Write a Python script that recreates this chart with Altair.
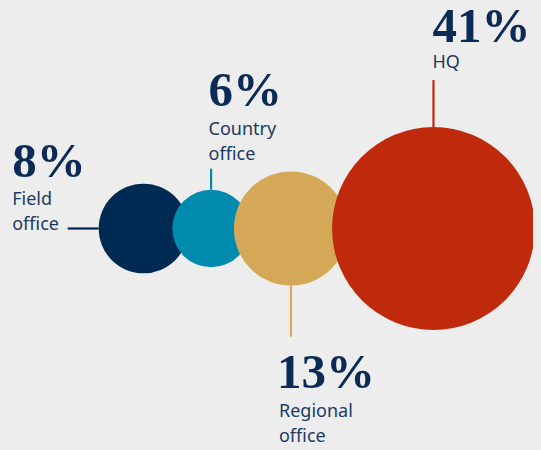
import math
import jinja2
import altair as alt
import pandas as pd

# ---- data ----
categories = ["Field office", "Country office", "Regional office", "HQ"]
shares = [8, 6, 13, 41]
pct_labels = ["8%", "6%", "13%", "41%"]
label_lines = ["Field\noffice", "Country\noffice", "Regional\noffice", "HQ"]
colors = ["#002a52", "#008aad", "#d4a857", "#bf2a0c"]

# ---- layout (pixels in plot space) ----
W, H = 525, 434
BG = "#ededed"
R_MAX = 101.4                 # radius of the largest bubble
K = R_MAX / math.sqrt(max(shares))
OVERLAP = 16
CY = 220.5
X0 = 135.5
sides = ["left", "top", "bottom", "top"]
conn_len = [31, 21, 51, 47]
pct_off = [(-55.5, -52), (-2.5, -63), (-14, 51), (-1, -38)]
lab_off = [(-55.5, -24), (-2.5, -34), (-12, 80), (-1, -12)]

rows = []
cx = X0
prev_r = None
for i, v in enumerate(shares):
    r = K * math.sqrt(v)
    if prev_r is not None:
        cx = cx + prev_r + r - OVERLAP
    prev_r = r
    s = sides[i]
    if s == "left":
        x1, x2, y1, y2 = cx - r - conn_len[i], cx - r, CY, CY
        ex, ey = x1, y1
    elif s == "top":
        x1, x2, y1, y2 = cx, cx, CY - r - conn_len[i], CY - r
        ex, ey = x1, y1
    else:
        x1, x2, y1, y2 = cx, cx, CY + r, CY + r + conn_len[i]
        ex, ey = x2, y2
    rows.append(dict(
        idx=i, cat=categories[i], value=v, cx=cx, cy=CY,
        lx1=x1, lx2=x2, ly1=y1, ly2=y2,
        px=ex + pct_off[i][0], py=ey + pct_off[i][1],
        tx=ex + lab_off[i][0], ty=ey + lab_off[i][1],
        pct=pct_labels[i], lab=label_lines[i],
    ))
df = pd.DataFrame(rows)

xs = alt.Scale(domain=[0, W], range=[0, W], nice=False, zero=False)
ys = alt.Scale(domain=[0, H], reverse=True, nice=False, zero=False)
color = alt.Color("cat:N", scale=alt.Scale(domain=categories, range=colors), legend=None)

base = alt.Chart(df)

# Vega circle: size = area of bounding square = (2r)^2
circles = base.mark_circle(opacity=1, strokeWidth=0).encode(
    x=alt.X("cx:Q", scale=xs, axis=None),
    y=alt.Y("cy:Q", scale=ys, axis=None),
    size=alt.Size("value:Q", scale=alt.Scale(type="linear", domain=[0, max(shares)],
                                             range=[0, 4 * R_MAX ** 2]), legend=None),
    color=color,
    order=alt.Order("idx:Q"),
)

rules = base.mark_rule(strokeWidth=2.2).encode(
    x=alt.X("lx1:Q", scale=xs, axis=None),
    x2="lx2:Q",
    y=alt.Y("ly1:Q", scale=ys, axis=None),
    y2="ly2:Q",
    color=color,
)

pct_text = base.mark_text(
    font="Liberation Serif", fontWeight="bold", fontSize=49,
    align="left", baseline="alphabetic", color="#0b2a55",
).encode(
    x=alt.X("px:Q", scale=xs, axis=None),
    y=alt.Y("py:Q", scale=ys, axis=None),
    text="pct:N",
)

lab_text = base.mark_text(
    font="Noto Sans", fontSize=18, lineBreak="\n", lineHeight=25,
    align="left", baseline="alphabetic", color="#1b3a63",
).encode(
    x=alt.X("tx:Q", scale=xs, axis=None),
    y=alt.Y("ty:Q", scale=ys, axis=None),
    text="lab:N",
)

chart = alt.layer(rules, circles, pct_text, lab_text).properties(
    width=W, height=H, background=BG, padding=0,
    autosize=alt.AutoSizeParams(type="none"),
).configure_view(strokeWidth=0)

TEMPLATE = jinja2.Template("""<!DOCTYPE html>
<html>
<head>
  <style>
    html, body { background: """ + BG + """; overflow: hidden; }
    #{{ output_div }}.vega-embed { width: 100%; display: flex; }
  </style>
  <script type="text/javascript" src="{{ base_url }}/vega@{{ vega_version }}"></script>
  <script type="text/javascript" src="{{ base_url }}/vega-lite@{{ vegalite_version }}"></script>
  <script type="text/javascript" src="{{ base_url }}/vega-embed@{{ vegaembed_version }}"></script>
</head>
<body>
  <div id="{{ output_div }}"></div>
  <script type="text/javascript">
    var spec = {{ spec }};
    var embedOpt = {{ embed_options }};
    const el = document.getElementById('{{ output_div }}');
    vegaEmbed("#{{ output_div }}", spec, embedOpt).catch(function (error) {
      el.innerHTML = '<div style="color:red;"><p>' + error + '</p></div>';
    });
  </script>
</body>
</html>
""")

chart.save("out.html", embed_options={"renderer": "svg", "actions": False}, template=TEMPLATE)
